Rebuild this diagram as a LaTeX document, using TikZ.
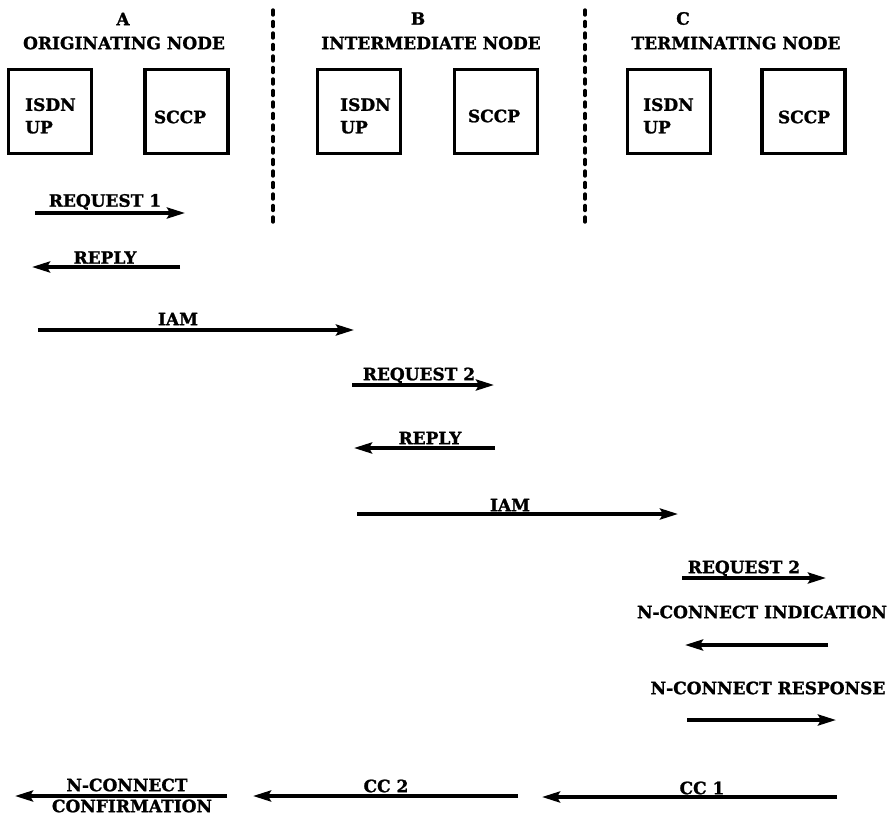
\documentclass[tikz,border=0pt]{standalone}
\usepackage{fontspec}
\setmainfont{DejaVu Serif}[BoldFeatures={FakeBold=1.3}]
\usetikzlibrary{arrows.meta}
\begin{document}
\begin{tikzpicture}[x=1pt,y=-1pt,
  lbl/.style={font=\fontsize{17}{22.5}\selectfont\bfseries, inner sep=0pt, text height=12.4pt, text depth=0pt},
  boxtxt/.style={font=\fontsize{17}{22.5}\selectfont\bfseries, inner sep=0pt, align=left},
  msg/.style={line width=3.4pt, -{Stealth[length=18pt,width=11pt,inset=3pt]}},
  unit/.style={draw, line width=3.4pt, minimum width=83pt, minimum height=84pt, inner sep=0pt},
  sep/.style={line width=3.4pt, dash pattern=on 5pt off 6.5pt, line cap=round}]
\useasboundingbox (0,0) rectangle (887,819);

% headers
\node[lbl] (hA) at (123,19) {A};
\node[lbl] (tA) at (124,43) {ORIGINATING NODE};
\node[lbl] (hB) at (418,18.5) {B};
\node[lbl] (tB) at (431,43) {INTERMEDIATE NODE};
\node[lbl] (hC) at (683,18.5) {C};
\node[lbl] (tC) at (736,43) {TERMINATING NODE};

% separators
\coordinate (d1t) at (273,10);
\coordinate (d1b) at (273,225);
\coordinate (d2t) at (585,10);
\coordinate (d2b) at (585,225);
\draw[sep] (d1t) -- (d1b);
\draw[sep] (d2t) -- (d2b);

% boxes
\node[unit] (isdnA) at (50,111.5) {};
\node[unit] (sccpA) at (186.5,111.5) {};
\node[unit] (isdnB) at (359,111.5) {};
\node[unit] (sccpB) at (496,111.5) {};
\node[unit] (isdnC) at (669,111.5) {};
\node[unit] (sccpC) at (803.5,111.5) {};

\node[boxtxt, anchor=north west] (isdnAt) at (25,98) {ISDN\\UP};
\node[boxtxt, anchor=north west] (isdnBt) at (340,98) {ISDN\\UP};
\node[boxtxt, anchor=north west] (isdnCt) at (643,98) {ISDN\\UP};
\node[lbl] (sccpAt) at (180,117) {SCCP};
\node[lbl] (sccpBt) at (494,116) {SCCP};
\node[lbl] (sccpCt) at (804,117) {SCCP};

% messages
\coordinate (m1s) at (35,213);  \coordinate (m1e) at (185,213);
\draw[msg] (m1s) -- (m1e);
\node[lbl] (m1l) at (105,200.5) {REQUEST 1};

\coordinate (m2s) at (180,267); \coordinate (m2e) at (32,267);
\draw[msg] (m2s) -- (m2e);
\node[lbl] (m2l) at (105,257.5) {REPLY};

\coordinate (m3s) at (38,330);  \coordinate (m3e) at (354,330);
\draw[msg] (m3s) -- (m3e);
\node[lbl] (m3l) at (178,319) {IAM};

\coordinate (m4s) at (352,385); \coordinate (m4e) at (494,385);
\draw[msg] (m4s) -- (m4e);
\node[lbl] (m4l) at (419,374) {REQUEST 2};

\coordinate (m5s) at (495,448); \coordinate (m5e) at (354,448);
\draw[msg] (m5s) -- (m5e);
\node[lbl] (m5l) at (430,438) {REPLY};

\coordinate (m6s) at (357,514); \coordinate (m6e) at (678,514);
\draw[msg] (m6s) -- (m6e);
\node[lbl] (m6l) at (510,505) {IAM};

\coordinate (m7s) at (682,578); \coordinate (m7e) at (826,578);
\draw[msg] (m7s) -- (m7e);
\node[lbl] (m7l) at (744,567) {REQUEST 2};

\node[lbl] (m8l) at (762,612) {N-CONNECT INDICATION};
\coordinate (m8s) at (828,645); \coordinate (m8e) at (685,645);
\draw[msg] (m8s) -- (m8e);

\node[lbl] (m9l) at (768,688) {N-CONNECT RESPONSE};
\coordinate (m9s) at (687,720); \coordinate (m9e) at (836,720);
\draw[msg] (m9s) -- (m9e);

\coordinate (m10s) at (227,796); \coordinate (m10e) at (15,796);
\draw[msg] (m10s) -- (m10e);
\node[lbl] (m10a) at (127,785) {N-CONNECT};
\node[lbl] (m10b) at (132,806) {CONFIRMATION};

\coordinate (m11s) at (518,796); \coordinate (m11e) at (253,796);
\draw[msg] (m11s) -- (m11e);
\node[lbl] (m11l) at (386,786) {CC 2};

\coordinate (m12s) at (837,797); \coordinate (m12e) at (542,797);
\draw[msg] (m12s) -- (m12e);
\node[lbl] (m12l) at (702,788) {CC 1};
\end{tikzpicture}
\end{document}
